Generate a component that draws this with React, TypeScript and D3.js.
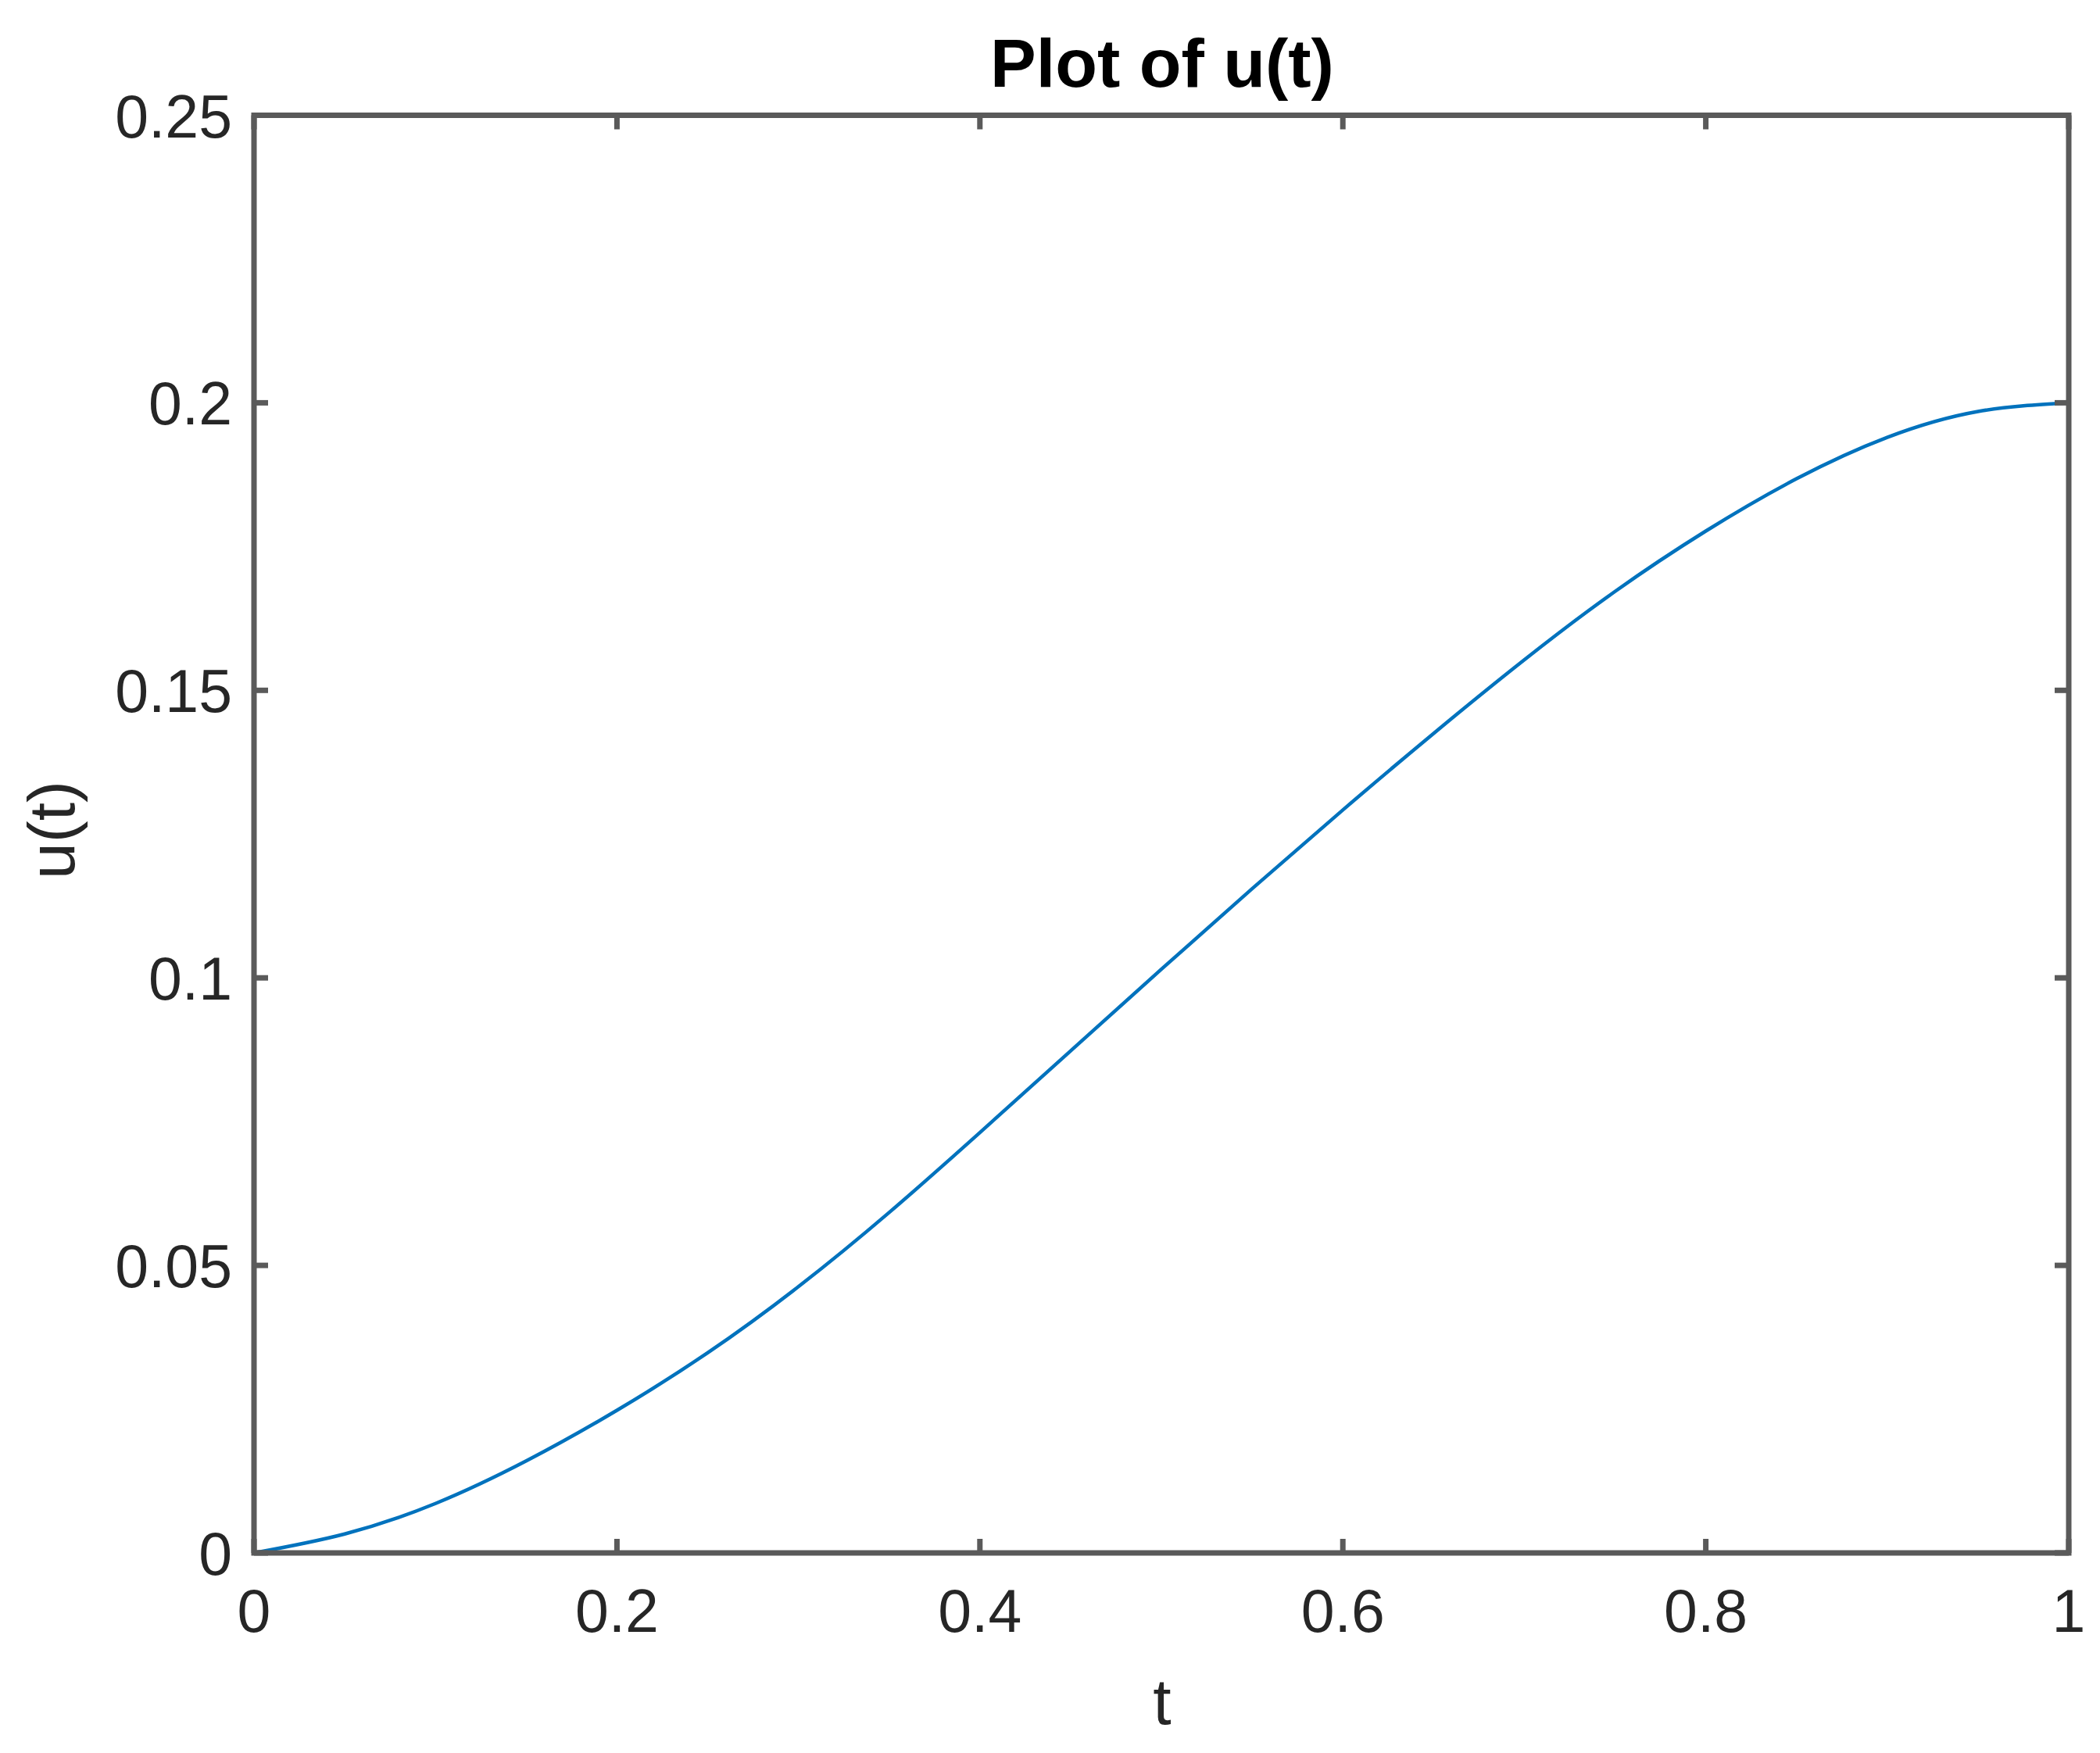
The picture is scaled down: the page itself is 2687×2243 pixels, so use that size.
import React from 'react';
import { scaleLinear, line, curveNatural } from 'd3';

const width = 2687;
const height = 2243;
const margin = { top: 147.5, right: 40, bottom: 256, left: 325 };

// values
const tValues = [0, 0.05, 0.1, 0.15, 0.2, 0.25, 0.3, 0.35, 0.4, 0.45, 0.5, 0.55, 0.6, 0.65, 0.7, 0.75, 0.8, 0.85, 0.9, 0.95, 1];
const uValues = [0, 0.0033, 0.0086, 0.016, 0.0248, 0.0348, 0.0463, 0.0592, 0.0731, 0.0873, 0.1015, 0.1155, 0.1292, 0.1425, 0.1553, 0.1672, 0.1777, 0.1868, 0.194, 0.1985, 0.2];

const xTicks = [0, 0.2, 0.4, 0.6, 0.8, 1];
const yTicks = [0, 0.05, 0.1, 0.15, 0.2, 0.25];
const xTickLabels = ['0', '0.2', '0.4', '0.6', '0.8', '1'];
const yTickLabels = ['0', '0.05', '0.1', '0.15', '0.2', '0.25'];

const title = 'Plot of u(t)';
const xAxisLabel = 't';
const yAxisLabel = 'u(t)';

const axisColor = '#5a5a5a';
const textColor = '#262626';
const font = '"Liberation Sans", Arial, Helvetica, sans-serif';
const tickLen = 18;

const App = () => {
  const innerWidth = width - margin.left - margin.right;
  const innerHeight = height - margin.top - margin.bottom;

  const xScale = scaleLinear().domain([0, 1]).range([0, innerWidth]);
  const yScale = scaleLinear().domain([0, 0.25]).range([innerHeight, 0]);

  const points = tValues.map((t, i) => [t, uValues[i]] as [number, number]);
  const path = line<[number, number]>()
    .x(d => xScale(d[0]))
    .y(d => yScale(d[1]))
    .curve(curveNatural)(points);

  return (
    <svg
      width={width}
      height={height}
      style={{ position: 'absolute', left: 0, top: 0, background: '#fff' }}
    >
      <rect width={width} height={height} fill="#fff" />
      <g transform={`translate(${margin.left},${margin.top})`}>
        <path d={path || ''} fill="none" stroke="#0072BD" strokeWidth={4.5} />

        {/* box */}
        <rect
          x={0}
          y={0}
          width={innerWidth}
          height={innerHeight}
          fill="none"
          stroke={axisColor}
          strokeWidth={7}
        />

        {/* x ticks, bottom and top */}
        {xTicks.map((v, i) => (
          <g key={`x${v}`} transform={`translate(${xScale(v)},0)`}>
            <line y1={innerHeight} y2={innerHeight - tickLen} stroke={axisColor} strokeWidth={7} />
            <line y1={0} y2={tickLen} stroke={axisColor} strokeWidth={7} />
            <text
              y={innerHeight + 101}
              textAnchor="middle"
              fontFamily={font}
              fontSize={77}
              fill={textColor}
            >
              {xTickLabels[i]}
            </text>
          </g>
        ))}

        {/* y ticks, left and right */}
        {yTicks.map((v, i) => (
          <g key={`y${v}`} transform={`translate(0,${yScale(v)})`}>
            <line x1={0} x2={tickLen} stroke={axisColor} strokeWidth={7} />
            <line x1={innerWidth} x2={innerWidth - tickLen} stroke={axisColor} strokeWidth={7} />
            <text
              x={-28}
              y={28}
              textAnchor="end"
              fontFamily={font}
              fontSize={77}
              fill={textColor}
            >
              {yTickLabels[i]}
            </text>
          </g>
        ))}

        <text
          x={innerWidth / 2 + 1}
          y={innerHeight + 219}
          textAnchor="middle"
          fontFamily={font}
          fontSize={84}
          fill={textColor}
        >
          {xAxisLabel}
        </text>

        <text
          transform={`translate(${95 - margin.left},${1062 - margin.top}) rotate(-90)`}
          textAnchor="middle"
          fontFamily={font}
          fontSize={84}
          fill={textColor}
        >
          {yAxisLabel}
        </text>

        <text
          x={innerWidth / 2 + 1}
          y={111 - margin.top}
          textAnchor="middle"
          fontFamily={font}
          fontSize={88}
          fontWeight="bold"
          fill="#000"
        >
          {title}
        </text>
      </g>
    </svg>
  );
};

export default App;
